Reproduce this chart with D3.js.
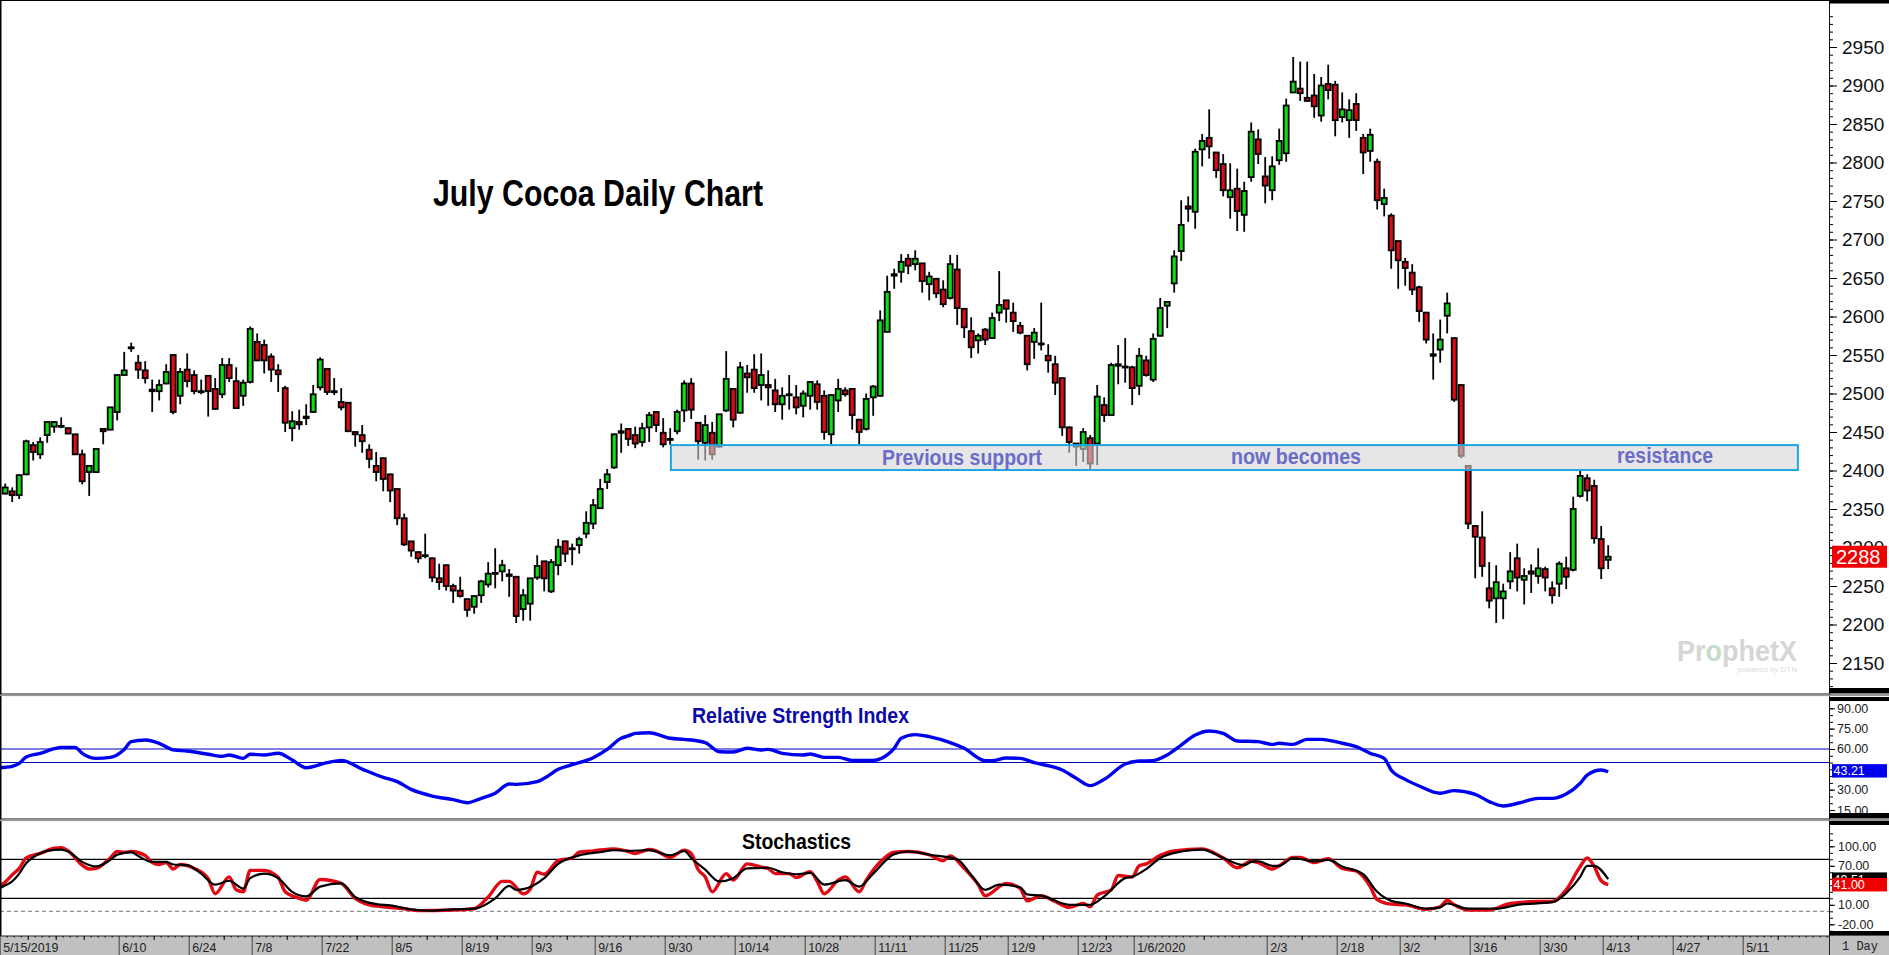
<!DOCTYPE html>
<html>
<head>
<meta charset="utf-8">
<title>July Cocoa Daily Chart</title>
<script src="https://cdn.jsdelivr.net/npm/d3@7"></script>
<style>
html, body { margin: 0; padding: 0; background: #fff; overflow: hidden; }
svg { display: block; }
text { font-family: "Liberation Sans", Arial, sans-serif; }
.narrow { font-family: "Liberation Sans Narrow", "Liberation Sans", Arial, sans-serif; font-weight: bold; }
</style>
</head>
<body>
<svg id="chart" width="1889" height="955"></svg>
<script>
//Daily bars, oldest first
var highs = [
  2383,2378,2395,2440,2437,2443,2463,2463,2469,2456,
  2447,2427,2406,2428,2454,2482,2524,2554,2566,2550,
  2542,2518,2518,2538,2550,2533,2552,2530,2518,2524,
  2520,2546,2546,2534,2518,2587,2578,2570,2552,2538,
  2510,2477,2479,2486,2511,2547,2533,2520,2507,2489,
  2451,2459,2434,2424,2417,2396,2376,2344,2308,2295,
  2318,2287,2279,2278,2253,2262,2233,2237,2258,2281,
  2299,2284,2272,2262,2246,2260,2290,2283,2285,2311,
  2309,2305,2314,2347,2363,2389,2402,2448,2461,2455,
  2457,2462,2476,2476,2468,2455,2479,2517,2520,2462,
  2472,2463,2473,2555,2507,2541,2537,2551,2552,2530,
  2519,2508,2524,2511,2504,2515,2517,2504,2499,2519,
  2508,2507,2466,2500,2511,2608,2653,2662,2681,2681,
  2686,2669,2658,2650,2647,2680,2680,2611,2599,2578,
  2585,2605,2659,2621,2618,2593,2575,2585,2618,2564,
  2549,2520,2457,2435,2455,2446,2511,2495,2540,2563,
  2572,2536,2559,2549,2578,2624,2620,2686,2751,2756,
  2818,2837,2869,2813,2811,2799,2792,2775,2852,2843,
  2807,2808,2844,2883,2937,2931,2931,2915,2911,2927,
  2906,2891,2882,2890,2837,2844,2805,2766,2734,2698,
  2676,2668,2640,2606,2578,2596,2631,2572,2512,2407,
  2328,2347,2281,2277,2253,2294,2305,2273,2278,2299,
  2275,2256,2282,2288,2366,2400,2395,2388,2328,2303
];
var lows = [
  2369,2359,2363,2394,2413,2415,2436,2449,2455,2447,
  2421,2382,2367,2397,2434,2453,2465,2524,2554,2519,
  2513,2476,2491,2512,2473,2486,2508,2499,2499,2470,
  2479,2494,2515,2481,2484,2513,2542,2526,2515,2502,
  2450,2438,2453,2459,2475,2504,2498,2498,2478,2450,
  2431,2423,2403,2386,2373,2359,2329,2302,2288,2280,
  2286,2255,2245,2244,2228,2235,2210,2214,2228,2248,
  2247,2256,2236,2202,2205,2205,2258,2243,2241,2264,
  2281,2277,2292,2312,2324,2350,2376,2402,2423,2432,
  2429,2431,2437,2450,2430,2433,2447,2463,2467,2414,
  2413,2414,2430,2476,2456,2474,2501,2501,2491,2484,
  2476,2466,2479,2473,2469,2479,2479,2440,2434,2476,
  2496,2453,2434,2452,2471,2496,2580,2636,2644,2655,
  2660,2631,2621,2624,2612,2622,2589,2572,2546,2552,
  2563,2571,2594,2592,2580,2577,2530,2545,2556,2527,
  2498,2445,2423,2406,2411,2401,2407,2463,2471,2512,
  2514,2485,2498,2522,2515,2574,2585,2631,2672,2723,
  2714,2795,2805,2780,2756,2727,2711,2710,2775,2798,
  2747,2751,2797,2801,2890,2880,2879,2858,2853,2882,
  2834,2852,2832,2841,2785,2801,2739,2730,2662,2636,
  2640,2628,2593,2565,2518,2540,2578,2489,2416,2324,
  2260,2262,2221,2202,2207,2246,2243,2226,2241,2253,
  2243,2227,2236,2246,2269,2365,2360,2305,2259,2272
];
var opens = [
  2370,2373,2368,2395,2433,2421,2446,2457,2458,2455,
  2447,2421,2398,2398,2454,2453,2476,2524,2560,2540,
  2530,2505,2503,2513,2550,2497,2531,2524,2503,2523,
  2506,2499,2537,2516,2497,2515,2567,2563,2548,2530,
  2507,2455,2463,2470,2476,2508,2532,2503,2489,2488,
  2450,2446,2427,2406,2416,2395,2376,2338,2308,2294,
  2290,2286,2260,2277,2250,2244,2233,2223,2238,2252,
  2267,2269,2265,2262,2220,2227,2261,2282,2243,2277,
  2308,2299,2303,2318,2331,2351,2385,2404,2451,2454,
  2446,2437,2456,2476,2449,2441,2451,2478,2513,2462,
  2436,2449,2431,2478,2506,2475,2526,2531,2511,2511,
  2504,2486,2499,2495,2484,2497,2512,2497,2447,2491,
  2504,2506,2466,2454,2495,2497,2580,2655,2658,2675,
  2668,2669,2642,2649,2635,2624,2661,2610,2581,2569,
  2583,2572,2605,2621,2605,2588,2575,2567,2565,2549,
  2538,2520,2456,2431,2428,2442,2435,2485,2472,2538,
  2535,2534,2510,2543,2518,2575,2614,2643,2685,2743,
  2736,2817,2832,2813,2798,2755,2766,2732,2781,2830,
  2782,2764,2803,2812,2891,2896,2884,2887,2861,2902,
  2901,2859,2855,2876,2832,2815,2801,2746,2731,2698,
  2671,2657,2638,2605,2551,2557,2601,2572,2511,2406,
  2328,2313,2247,2234,2234,2256,2286,2258,2269,2263,
  2272,2247,2253,2273,2271,2367,2390,2380,2311,2284
];
var closes = [
  2378,2368,2394,2438,2424,2437,2463,2463,2457,2448,
  2421,2386,2406,2428,2451,2482,2524,2530,2559,2531,
  2520,2503,2511,2528,2476,2528,2516,2503,2502,2503,
  2480,2537,2520,2481,2514,2584,2543,2543,2531,2525,
  2462,2464,2460,2468,2499,2544,2502,2502,2482,2451,
  2447,2438,2415,2398,2389,2374,2338,2304,2296,2286,
  2289,2261,2255,2250,2244,2237,2219,2237,2256,2266,
  2266,2277,2263,2211,2238,2260,2276,2260,2281,2301,
  2292,2298,2311,2332,2355,2376,2395,2447,2449,2441,
  2435,2455,2472,2459,2434,2440,2476,2513,2479,2438,
  2459,2421,2473,2519,2466,2534,2521,2507,2524,2508,
  2486,2497,2498,2482,2500,2515,2489,2450,2498,2506,
  2499,2472,2450,2493,2509,2595,2632,2653,2671,2666,
  2675,2646,2652,2630,2616,2668,2611,2586,2560,2575,
  2570,2598,2615,2610,2594,2579,2538,2579,2564,2543,
  2514,2456,2437,2435,2450,2409,2496,2472,2537,2536,
  2534,2507,2549,2524,2571,2611,2619,2678,2719,2740,
  2814,2828,2821,2790,2764,2764,2737,2763,2840,2811,
  2770,2795,2828,2874,2905,2890,2880,2873,2900,2894,
  2855,2869,2868,2855,2813,2836,2751,2754,2686,2673,
  2663,2635,2607,2570,2549,2570,2617,2492,2419,2331,
  2314,2276,2231,2255,2243,2269,2261,2263,2266,2273,
  2261,2238,2279,2262,2350,2393,2374,2312,2273,2288
];

//Relative strength index, bar number and value
var rsiBars = [-1,0,1,2,3,5,7,8,10,11,13,15,17,18,20,22,24,26,29,31,32,34,35,37,39,41,43,46,48,51,54,56,58,61,64,66,68,70,72,73,76,77,79,81,84,86,88,89,
  90,92,95,97,100,102,104,106,108,109,111,114,115,117,119,121,124,126,127,128,130,132,135,137,140,141,143,145,147,151,153,155,157,160,162,164,166,168,170,172,174,176,
  179,181,182,184,186,188,191,193,195,197,198,200,202,205,207,210,212,214,217,219,221,223,225,226,228,229];
var rsiValues = [46.2,46.5,47.2,49.4,54.1,56.8,60.2,61.2,61.2,56.8,53.1,53.8,59.7,65.4,66.6,64.2,59.3,58.5,56.1,54.6,55.6,53.1,56.1,55.6,56.8,51.9,46.2,49.9,51.6,45.2,39.1,35.9,30.2,25.3,22.6,20.4,23.6,27.3,34.2,33.9,35.9,38.4,45,48.4,53.6,59.7,67.9,69.6,
  71.5,72,67.9,67.1,64.7,58,57.8,60.5,59.3,59.7,56.8,55.6,56.3,53.8,53.8,51.6,51.6,55.6,60.5,67.9,70.6,69.1,64.7,60.5,51.4,51.4,53.4,53.1,49.9,44.5,38.4,33,37.6,48.9,51.1,51.4,55.6,62.9,70.3,73.3,71.5,65.9,
  65.4,63.4,64.2,63.4,67.1,67.1,64.2,61.7,56.8,53.1,44.5,37.6,32.7,27.3,29.3,26.6,21.2,18,21.2,23.6,23.6,26.8,34.7,40.8,44.5,43.21];
var rsiLevels = [60, 50];
var rsiTicks = [90, 75, 60, 30, 15];

//Stochastics, red %K and black %D
var kBars = [-1,0,1,2,3,5,7,8,9,11,12,13,15,16,17,18,20,21,22,23,24,25,27,29,30,32,33,34,35,37,39,40,42,43,45,48,50,52,54,57,59,64,67,69,71,72,74,75,76,77,79,81,82,84,87,89,
  90,92,93,95,97,98,99,100,101,103,104,106,108,109,110,112,113,115,116,117,119,120,122,123,125,127,129,132,134,135,137,139,140,143,145,146,148,150,152,154,155,156,158,159,161,162,163,165,167,171,174,176,178,
  179,181,182,184,185,187,189,191,193,195,196,198,200,203,205,206,207,209,212,215,219,221,223,225,226,227,228,229];
var kValues = [36,45,56,66,82,89,97,98,93,71,65,66,82,92,91,92,86,75,72,75,65,72,66,50,27,53,33,30,63,63,52,30,20,17,49,43,20,10,7,4,1,2,4,22,46,46,27,34,60,57,78,82,91,93,96,92,
  89,95,93,83,94,89,64,53,30,58,48,73,68,66,58,58,52,61,46,27,48,53,30,48,76,91,92,87,78,85,66,41,24,43,35,16,24,15,6,12,7,25,33,55,53,70,73,86,93,96,82,67,77,
  75,65,70,83,83,75,81,66,62,38,18,11,10,3,7,17,10,2,2,12,15,15,33,69,82,69,47,41];
var dBars = [-1,0,1,2,3,4,6,8,9,11,13,15,16,18,19,21,23,24,26,28,30,32,34,35,37,39,41,43,45,48,50,53,55,58,61,64,67,70,72,73,74,77,79,82,85,87,89,
  92,95,97,98,100,102,104,106,109,111,113,115,117,120,122,124,127,129,132,136,138,140,142,145,146,148,152,155,157,160,161,163,165,168,171,174,177,178,
  179,181,182,184,187,189,191,194,196,198,200,203,205,206,209,213,216,221,223,225,226,227,229];
var dValues = [34,40,46,58,74,83,93,95,92,76,69,79,87,91,85,76,76,72,71,58,41,47,35,51,58,51,30,23,38,43,22,11,9,3,1,3,4,20,39,33,34,51,73,86,91,94,93,
  94,86,93,82,64,46,51,66,67,60,57,59,41,48,38,58,88,92,87,80,56,33,41,37,26,24,10,10,23,51,53,65,82,92,95,82,71,76,
  77,70,70,82,77,79,69,57,30,16,12,4,6,12,4,4,10,14,28,53,70,70,49.51];
var stochLevels = [80, 20];
var stochDash = 0;
var stochTicks = [100, 70, 10, -20];

//Price axis and date axis
var priceTicks = [2150,2200,2250,2300,2350,2400,2450,2500,2550,2600,2650,2700,2750,2800,2850,2900,2950];
var dateBars = [-1,16,26,35,45,55,65,75,84,94,104,114,124,134,143,153,161,180,190,199,209,219,228,238,248];
var dateLabels = ["5/15/2019","6/10","6/24","7/8","7/22","8/5","8/19","9/3","9/16","9/30","10/14","10/28","11/11","11/25","12/9","12/23","1/6/2020","2/3","2/18","3/2","3/16","3/30","4/13","4/27","5/11"];
var weekBars = [3,7,11,21,31,40,50,60,70,80,89,99,109,119,129,139,148,157,171,185,195,204,214,224,233,243,253];

//The shaded zone, in bars and prices
var zoneBars = [95.1, 256.1];
var zonePrices = [2400.6, 2433];

var green = "#0ae014", red = "#e00a14", blue = "#0000f0", navy = "#0000c0";
var axisX = 1829, width = 1889;

var svg = d3.select("#chart");

var x = d3.scaleLinear().domain([0, 229]).range([5.2, 1608.2]);
var yPrice = d3.scaleLinear().domain([2950, 2150]).range([47, 663]);
var yRsi = d3.scaleLinear().domain([90, 15]).range([708.3, 810]);
var yStoch = d3.scaleLinear().domain([100, -20]).range([846.3, 924.3]);

///////////////////////////////////////////////////////////////////////////////
// Candles

var bars = highs.map(function (h, i) {
    return { i: i, high: h, low: lows[i], open: opens[i], close: closes[i] };
});

var candles = svg.append("g").selectAll("g").data(bars).enter().append("g");

candles.append("line")
    .attr("x1", function (d) { return x(d.i); })
    .attr("x2", function (d) { return x(d.i); })
    .attr("y1", function (d) { return yPrice(d.high); })
    .attr("y2", function (d) { return yPrice(d.low); })
    .attr("stroke", "#000")
    .attr("stroke-width", 1.8);

candles.append("rect")
    .attr("x", function (d) { return x(d.i) - 2.5; })
    .attr("width", 5)
    .attr("y", function (d) { return yPrice(Math.max(d.open, d.close)); })
    .attr("height", function (d) { return Math.max(1, Math.abs(yPrice(d.open) - yPrice(d.close))); })
    .attr("fill", function (d) { return d.close >= d.open ? green : red; })
    .attr("stroke", "#000")
    .attr("stroke-width", 1.8);

///////////////////////////////////////////////////////////////////////////////
// Zone and the notes on the price panel

svg.append("rect")
    .attr("x", x(zoneBars[0]))
    .attr("width", x(zoneBars[1]) - x(zoneBars[0]))
    .attr("y", yPrice(zonePrices[1]))
    .attr("height", yPrice(zonePrices[0]) - yPrice(zonePrices[1]))
    .attr("fill", "rgb(213,213,213)")
    .attr("fill-opacity", 0.6)
    .attr("stroke", "#1ca7e0")
    .attr("stroke-width", 2);

var note = function (s, left, base, size, fill, span) {
    return svg.append("text").attr("class", "narrow").attr("x", left).attr("y", base)
        .attr("font-size", size).attr("fill", fill)
        .attr("textLength", span).attr("lengthAdjust", "spacingAndGlyphs").text(s);
};

note("July Cocoa Daily Chart", 433, 206, 36, "#000", 330);
note("Previous support", 882, 465, 22, "#6a6cc8", 160);
note("now becomes", 1231, 464, 22, "#6a6cc8", 130);
note("resistance", 1617, 463, 22, "#6a6cc8", 96);
note("Relative Strength Index", 692, 723, 22, "#0a0aa8", 217);
note("Stochastics", 742, 849, 22, "#000", 109);

var logo = svg.append("text").attr("x", 1677).attr("y", 661)
    .attr("font-size", 29).attr("font-weight", "bold").attr("fill", "#d6d6d6")
    .attr("textLength", 120).attr("lengthAdjust", "spacingAndGlyphs");
logo.append("tspan").text("Pr");
logo.append("tspan").attr("fill", "#c4dcc8").text("o");
logo.append("tspan").text("phetX");
svg.append("text").attr("x", 1797).attr("y", 672).attr("text-anchor", "end")
    .attr("font-size", 8).attr("fill", "#dcdcdc").text("powered by DTN");

///////////////////////////////////////////////////////////////////////////////
// RSI panel

svg.append("g").selectAll("line").data(rsiLevels).enter().append("line")
    .attr("x1", 0).attr("x2", axisX)
    .attr("y1", yRsi).attr("y2", yRsi)
    .attr("stroke", navy).attr("stroke-width", 1.1);

var seriesLine = function (barList, valueList, scale) {
    return d3.line()
        .x(function (d, i) { return x(barList[i]); })
        .y(function (d) { return scale(d); })
        .curve(d3.curveMonotoneX)(valueList);
};

svg.append("path")
    .attr("d", seriesLine(rsiBars, rsiValues, yRsi))
    .attr("fill", "none").attr("stroke", blue).attr("stroke-width", 3.4);

///////////////////////////////////////////////////////////////////////////////
// Stochastics panel

svg.append("g").selectAll("line").data(stochLevels).enter().append("line")
    .attr("x1", 0).attr("x2", axisX)
    .attr("y1", yStoch).attr("y2", yStoch)
    .attr("stroke", "#000").attr("stroke-width", 1.2);

svg.append("line")
    .attr("x1", 0).attr("x2", axisX)
    .attr("y1", yStoch(stochDash)).attr("y2", yStoch(stochDash))
    .attr("stroke", "#777").attr("stroke-dasharray", "4,3");

svg.append("path")
    .attr("d", seriesLine(kBars, kValues, yStoch))
    .attr("fill", "none").attr("stroke", red).attr("stroke-width", 3.4);

svg.append("path")
    .attr("d", seriesLine(dBars, dValues, yStoch))
    .attr("fill", "none").attr("stroke", "#000").attr("stroke-width", 2.2);

///////////////////////////////////////////////////////////////////////////////
// Right hand axes

var drawAxis = function (scale, majors, minors, fmt, size, pad) {
    var g = svg.append("g").attr("transform", "translate(" + axisX + ",0)");
    g.append("g")
        .call(d3.axisRight(scale).tickValues(minors).tickSize(4).tickSizeOuter(0).tickFormat(""))
        .call(function (a) { a.select(".domain").remove(); });
    g.append("g")
        .call(d3.axisRight(scale).tickValues(majors).tickSize(size).tickSizeOuter(0).tickPadding(pad).tickFormat(fmt))
        .call(function (a) { a.select(".domain").remove(); });
    return g;
};

drawAxis(yPrice, priceTicks, d3.range(2120, 3000, 10), String, 8, 5)
    .selectAll("text").attr("font-size", 19).attr("fill", "#111").style("font-family", "'Liberation Sans'");
drawAxis(yRsi, rsiTicks, d3.range(15, 95, 5), function (d) { return d.toFixed(2); }, 6, 2)
    .selectAll("text").attr("font-size", 12.5).attr("fill", "#222").style("font-family", "'Liberation Sans'");
drawAxis(yStoch, stochTicks, d3.range(-30, 125, 10), function (d) { return d.toFixed(2); }, 6, 3)
    .selectAll("text").attr("font-size", 12.5).attr("fill", "#222").style("font-family", "'Liberation Sans'");

svg.append("line").attr("x1", axisX + 0.5).attr("x2", axisX + 0.5).attr("y1", 0).attr("y2", 955)
    .attr("stroke", "#111").attr("stroke-width", 1);

// Last value tags
var tag = function (cy, top, h, fill, s, size) {
    svg.append("rect").attr("x", 1832).attr("width", 55).attr("y", top).attr("height", h).attr("fill", fill);
    svg.append("text").attr("x", size > 14 ? 1836 : 1833.5).attr("y", cy + size * 0.36)
        .attr("font-size", size).attr("fill", "#fff").text(s);
};

tag(yPrice(closes[229]), yPrice(closes[229]) - 11, 22, "#f00000", String(closes[229]), 20);
tag(yRsi(rsiValues[rsiValues.length - 1]) - 1, yRsi(rsiValues[rsiValues.length - 1]) - 7.6, 13.4, "#0000f0", "43.21", 12.5);
tag(yStoch(dValues[dValues.length - 1]), yStoch(dValues[dValues.length - 1]) - 6.7, 13.4, "#000", "49.51", 12.5);
tag(yStoch(kValues[kValues.length - 1]), yStoch(kValues[kValues.length - 1]) - 6.8, 13.6, "#f00000", "41.00", 12.5);

///////////////////////////////////////////////////////////////////////////////
// Frame and panel dividers

var frame = svg.append("g");
frame.append("rect").attr("width", width).attr("height", 1).attr("fill", "#000");
frame.append("rect").attr("width", 1.5).attr("height", 955).attr("fill", "#000");
[693.5, 818.5].forEach(function (y) {
    frame.append("rect").attr("y", y).attr("width", width).attr("height", 1).attr("fill", "#111");
    frame.append("rect").attr("y", y + 1).attr("width", width).attr("height", 1.6).attr("fill", "#999");
});
[[0, 3.5], [688, 5], [697, 4], [813, 5], [821, 4], [931, 4.5]].forEach(function (b) {
    frame.append("rect").attr("x", axisX).attr("y", b[0]).attr("width", width - axisX).attr("height", b[1]).attr("fill", "#000");
});

///////////////////////////////////////////////////////////////////////////////
// Date axis along the bottom

var dates = svg.append("g");
dates.append("rect").attr("y", 936).attr("width", width).attr("height", 19).attr("fill", "#c0c0c0");
dates.append("rect").attr("y", 935.5).attr("width", width).attr("height", 1).attr("fill", "#222");

var dateOffset = "translate(1.5,936)";
dates.append("g").attr("transform", dateOffset)
    .call(d3.axisBottom(x).tickValues(d3.range(0, 261)).tickSize(1.5).tickSizeOuter(0).tickFormat(""))
    .call(function (a) { a.select(".domain").remove(); });
dates.append("g").attr("transform", dateOffset)
    .call(d3.axisBottom(x).tickValues(weekBars).tickSize(4).tickSizeOuter(0).tickFormat(""))
    .call(function (a) { a.select(".domain").remove(); });

var dateAxis = dates.append("g").attr("transform", dateOffset)
    .call(d3.axisBottom(x).tickValues(dateBars).tickSize(19).tickSizeOuter(0)
        .tickFormat(function (d, i) { return dateLabels[i]; }));
dateAxis.select(".domain").remove();
dateAxis.selectAll("line").attr("stroke", "#444");
dateAxis.selectAll("text")
    .attr("text-anchor", "start").attr("x", 3).attr("y", 15.5).attr("dy", 0)
    .attr("font-size", 12.4).attr("fill", "#222").style("font-family", "'Liberation Sans'");

dates.append("rect").attr("x", axisX).attr("y", 936).attr("width", width - axisX).attr("height", 19).attr("fill", "#c0c0c0");
dates.append("line").attr("x1", axisX + 0.5).attr("x2", axisX + 0.5).attr("y1", 936).attr("y2", 955).attr("stroke", "#222");
dates.append("text").attr("x", 1842).attr("y", 950).attr("font-size", 12)
    .style("font-family", "'Liberation Mono'").attr("fill", "#222").text("1 Day");
</script>
</body>
</html>
